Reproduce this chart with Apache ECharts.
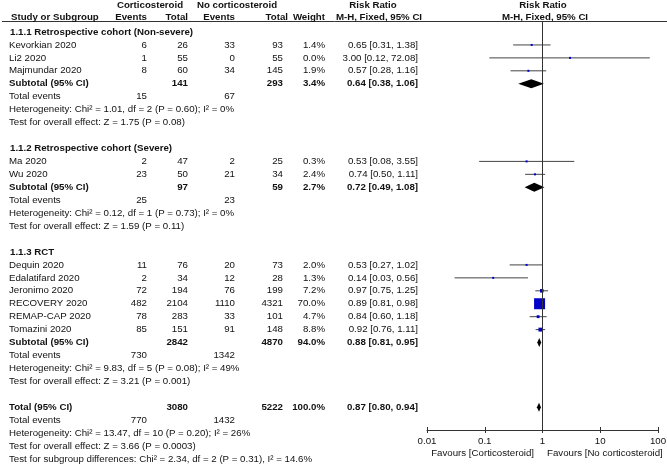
<!DOCTYPE html>
<html>
<head>
<meta charset="utf-8">
<script src="https://cdn.jsdelivr.net/npm/echarts@6/dist/echarts.min.js"></script>
<style>html,body{margin:0;padding:0;background:#fff;}#c{width:667px;height:467px;}</style>
</head>
<body>
<div id="c"></div>
<script>
// ---------------- DATA ----------------
const groupTitles = ['1.1.1 Retrospective cohort (Non-severe)', '1.1.2 Retrospective cohort (Severe)', '1.1.3 RCT'];
const studies = ['Kevorkian 2020', 'Li2 2020', 'Majmundar 2020', 'Ma 2020', 'Wu 2020', 'Dequin 2020', 'Edalatifard 2020', 'Jeronimo 2020', 'RECOVERY 2020', 'REMAP-CAP 2020', 'Tomazini 2020'];
const studyGroup = [0, 0, 0, 1, 1, 2, 2, 2, 2, 2, 2];
const csEvents = [6, 1, 8, 2, 23, 11, 2, 72, 482, 78, 85];
const csTotal = [26, 55, 60, 47, 50, 76, 34, 194, 2104, 283, 151];
const ncEvents = [33, 0, 34, 2, 21, 20, 12, 76, 1110, 33, 91];
const ncTotal = [93, 55, 145, 25, 34, 73, 28, 199, 4321, 101, 148];
const weight = [1.4, 0.0, 1.9, 0.3, 2.4, 2.0, 1.3, 7.2, 70.0, 4.7, 8.8];
const rr = [0.65, 3.00, 0.57, 0.53, 0.74, 0.53, 0.14, 0.97, 0.89, 0.84, 0.92];
const rrLo = [0.31, 0.12, 0.28, 0.08, 0.50, 0.27, 0.03, 0.75, 0.81, 0.60, 0.76];
const rrHi = [1.38, 72.08, 1.16, 3.55, 1.11, 1.02, 0.56, 1.25, 0.98, 1.18, 1.11];

const subCsTotal = [141, 97, 2842];
const subNcTotal = [293, 59, 4870];
const subWeight = [3.4, 2.7, 94.0];
const subRR = [0.64, 0.72, 0.88];
const subLo = [0.38, 0.49, 0.81];
const subHi = [1.06, 1.08, 0.95];
const subCsEvents = [15, 25, 730];
const subNcEvents = [67, 23, 1342];
const subHet = ['Heterogeneity: Chi² = 1.01, df = 2 (P = 0.60); I² = 0%', 'Heterogeneity: Chi² = 0.12, df = 1 (P = 0.73); I² = 0%', 'Heterogeneity: Chi² = 9.83, df = 5 (P = 0.08); I² = 49%'];
const subTest = ['Test for overall effect: Z = 1.75 (P = 0.08)', 'Test for overall effect: Z = 1.59 (P = 0.11)', 'Test for overall effect: Z = 3.21 (P = 0.001)'];

const totCsTotal = 3080, totNcTotal = 5222, totWeight = 100.0;
const totRR = 0.87, totLo = 0.80, totHi = 0.94;
const totCsEvents = 770, totNcEvents = 1432;
const totHet = 'Heterogeneity: Chi² = 13.47, df = 10 (P = 0.20); I² = 26%';
const totTest = 'Test for overall effect: Z = 3.66 (P = 0.0003)';
const subDiffTest = 'Test for subgroup differences: Chi² = 2.34, df = 2 (P = 0.31), I² = 14.6%';
const xTicks = [0.01, 0.1, 1, 10, 100];
const favLeft = 'Favours [Corticosteroid]', favRight = 'Favours [No corticosteroid]';

// ---------------- LAYOUT ----------------
const W = 667, H = 467;
const ROW0 = 32, ROWH = 12.94;
const HEAD1_Y = 5, HEAD2_Y = 17, HLINE_Y = 21.5;
const PLOT_L = 427, PLOT_R = 658, AXIS_Y = 430, FAV_Y = 453;
const COL = {name: 9, csE: 147, csT: 188, ncE: 235, ncT: 283, w: 325, rr: 418};
const FS = 9.7;
const rowOf = y => (y - ROW0) / ROWH;

// ---------------- BUILD ROWS ----------------
const texts = [];
function T(x, row, text, align, bold) { texts.push({x, row, text: String(text), align, bold: !!bold}); }
const fmtRR = (a, l, h) => a.toFixed(2) + ' [' + l.toFixed(2) + ', ' + h.toFixed(2) + ']';

// headers
T(150, rowOf(HEAD1_Y), 'Corticosteroid', 'center', true);
T(237, rowOf(HEAD1_Y), 'No corticosteroid', 'center', true);
T(373, rowOf(HEAD1_Y), 'Risk Ratio', 'center', true);
T(543, rowOf(HEAD1_Y), 'Risk Ratio', 'center', true);
T(11, rowOf(HEAD2_Y), 'Study or Subgroup', 'left', true);
T(COL.csE, rowOf(HEAD2_Y), 'Events', 'right', true);
T(COL.csT, rowOf(HEAD2_Y), 'Total', 'right', true);
T(COL.ncE, rowOf(HEAD2_Y), 'Events', 'right', true);
T(COL.ncT + 5, rowOf(HEAD2_Y), 'Total', 'right', true);
T(COL.w, rowOf(HEAD2_Y), 'Weight', 'right', true);
T(379, rowOf(HEAD2_Y), 'M-H, Fixed, 95% CI', 'center', true);
T(545, rowOf(HEAD2_Y), 'M-H, Fixed, 95% CI', 'center', true);

const studyMarks = [];   // [rr, row, lo, hi, weight]
const diamondMarks = []; // [rr, row, lo, hi]
let r = 0;
for (let g = 0; g < groupTitles.length; g++) {
  T(COL.name + 1, r, groupTitles[g], 'left', true); r++;
  for (let i = 0; i < studies.length; i++) {
    if (studyGroup[i] !== g) continue;
    T(COL.name, r, studies[i], 'left');
    T(COL.csE, r, csEvents[i], 'right');
    T(COL.csT, r, csTotal[i], 'right');
    T(COL.ncE, r, ncEvents[i], 'right');
    T(COL.ncT, r, ncTotal[i], 'right');
    T(COL.w, r, weight[i].toFixed(1) + '%', 'right');
    T(COL.rr, r, fmtRR(rr[i], rrLo[i], rrHi[i]), 'right');
    studyMarks.push([rr[i], r, rrLo[i], rrHi[i], weight[i]]);
    r++;
  }
  T(COL.name, r, 'Subtotal (95% CI)', 'left', true);
  T(COL.csT, r, subCsTotal[g], 'right', true);
  T(COL.ncT, r, subNcTotal[g], 'right', true);
  T(COL.w, r, subWeight[g].toFixed(1) + '%', 'right', true);
  T(COL.rr, r, fmtRR(subRR[g], subLo[g], subHi[g]), 'right', true);
  diamondMarks.push([subRR[g], r, subLo[g], subHi[g]]);
  r++;
  T(COL.name, r, 'Total events', 'left');
  T(COL.csE, r, subCsEvents[g], 'right');
  T(COL.ncE, r, subNcEvents[g], 'right');
  r++;
  T(COL.name, r, subHet[g], 'left'); r++;
  T(COL.name, r, subTest[g], 'left'); r++;
  r++; // blank
}
T(COL.name, r, 'Total (95% CI)', 'left', true);
T(COL.csT, r, totCsTotal, 'right', true);
T(COL.ncT, r, totNcTotal, 'right', true);
T(COL.w, r, totWeight.toFixed(1) + '%', 'right', true);
T(COL.rr, r, fmtRR(totRR, totLo, totHi), 'right', true);
diamondMarks.push([totRR, r, totLo, totHi]);
r++;
T(COL.name, r, 'Total events', 'left');
T(COL.csE, r, totCsEvents, 'right');
T(COL.ncE, r, totNcEvents, 'right');
r++;
T(COL.name, r, totHet, 'left'); r++;
T(COL.name, r, totTest, 'left'); r++;
T(COL.name, r, subDiffTest, 'left'); r++;
T(534, rowOf(FAV_Y), favLeft, 'right');
T(547, rowOf(FAV_Y), favRight, 'left');

// ---------------- CHART ----------------
const chart = echarts.init(document.getElementById('c'), null, {renderer: 'canvas'});
const FONT_FAMILY = '"Liberation Sans", Arial, sans-serif';
const fontOf = b => (b ? 'bold ' : '') + FS + 'px ' + FONT_FAMILY;
const LINE_C = '#333';

const option = {
  animation: false,
  backgroundColor: '#fff',
  grid: [
    {left: 0, top: 0, width: W, height: H, outerBoundsMode: 'none', containLabel: false},
    {left: PLOT_L, top: HLINE_Y, width: PLOT_R - PLOT_L, height: AXIS_Y - HLINE_Y, outerBoundsMode: 'none', containLabel: false}
  ],
  xAxis: [
    {gridIndex: 0, type: 'value', min: 0, max: W, show: false},
    {gridIndex: 1, type: 'log', logBase: 10, min: xTicks[0], max: xTicks[xTicks.length - 1], position: 'bottom',
      splitLine: {show: false},
      axisLine: {show: true, onZero: false, lineStyle: {color: LINE_C, width: 1}},
      axisTick: {show: true, inside: false, length: 3, lineStyle: {color: LINE_C, width: 1}},
      axisLabel: {show: true, margin: 6, color: '#111', fontSize: FS, fontFamily: FONT_FAMILY,
        formatter: v => String(+v.toPrecision(6))}},
    {gridIndex: 1, type: 'log', logBase: 10, min: xTicks[0], max: xTicks[xTicks.length - 1], position: 'bottom',
      splitLine: {show: false},
      axisLine: {show: false, onZero: false},
      axisTick: {show: true, inside: true, length: 3, lineStyle: {color: LINE_C, width: 1}},
      axisLabel: {show: false}}
  ],
  yAxis: [
    {gridIndex: 0, type: 'value', inverse: true, min: rowOf(0), max: rowOf(H), show: false},
    {gridIndex: 1, type: 'value', inverse: true, min: rowOf(HLINE_Y), max: rowOf(AXIS_Y), show: false}
  ],
  series: [
    // header rule
    {
      type: 'custom', xAxisIndex: 0, yAxisIndex: 0, silent: true, clip: false,
      data: [[2, rowOf(HLINE_Y)]],
      renderItem: (params, api) => {
        const a = api.coord([2, rowOf(HLINE_Y)]);
        const b = api.coord([W, rowOf(HLINE_Y)]);
        return {type: 'line', shape: {x1: a[0], y1: a[1], x2: b[0], y2: b[1]}, style: {stroke: LINE_C, lineWidth: 1}};
      }
    },
    // table text
    {
      type: 'custom', xAxisIndex: 0, yAxisIndex: 0, silent: true, clip: false,
      data: texts.map(t => [t.x, t.row]),
      renderItem: (params, api) => {
        const t = texts[params.dataIndex];
        const p = api.coord([t.x, t.row]);
        return {type: 'text', x: p[0], y: p[1],
          style: {text: t.text, font: fontOf(t.bold), fill: '#111',
            textAlign: t.align, align: t.align, textVerticalAlign: 'middle', verticalAlign: 'middle'}};
      }
    },
    // null line at RR = 1
    {
      type: 'custom', xAxisIndex: 1, yAxisIndex: 1, silent: true,
      data: [[1, 0]],
      renderItem: () => null,
      markLine: {silent: true, symbol: ['none', 'none'], label: {show: false},
        lineStyle: {color: LINE_C, width: 1, type: 'solid'}, data: [{xAxis: 1}]}
    },
    // study CIs and squares
    {
      type: 'custom', xAxisIndex: 1, yAxisIndex: 1, silent: true, clip: false,
      data: studyMarks,
      renderItem: (params, api) => {
        const c = api.coord([api.value(0), api.value(1)]);
        const lo = api.coord([api.value(2), api.value(1)]);
        const hi = api.coord([api.value(3), api.value(1)]);
        const s = Math.max(2, 11 * Math.sqrt(api.value(4) / 70));
        return {type: 'group', children: [
          {type: 'line', shape: {x1: lo[0], y1: lo[1], x2: hi[0], y2: hi[1]}, style: {stroke: '#444', lineWidth: 1}},
          {type: 'rect', shape: {x: c[0] - s / 2, y: c[1] - s / 2, width: s, height: s}, style: {fill: '#0000c8'}}
        ]};
      }
    },
    // diamonds
    {
      type: 'custom', xAxisIndex: 1, yAxisIndex: 1, silent: true, clip: false,
      data: diamondMarks,
      renderItem: (params, api) => {
        const c = api.coord([api.value(0), api.value(1)]);
        const lo = api.coord([api.value(2), api.value(1)]);
        const hi = api.coord([api.value(3), api.value(1)]);
        const h = 4.5;
        return {type: 'polygon', shape: {points: [[lo[0], c[1]], [c[0], c[1] - h], [hi[0], c[1]], [c[0], c[1] + h]]},
          style: {fill: '#000'}};
      }
    }
  ]
};
chart.setOption(option);
</script>
</body>
</html>
